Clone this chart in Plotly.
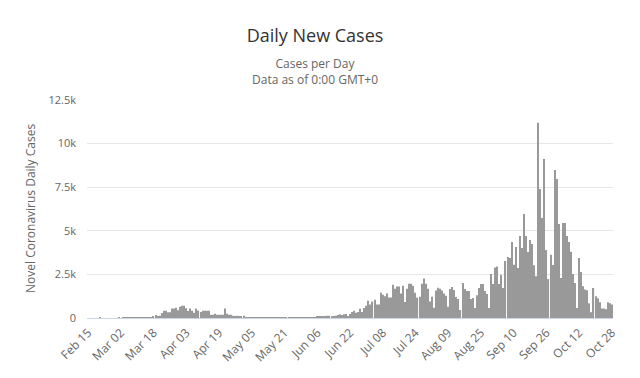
import plotly.graph_objects as go
import pandas as pd

# Categories: one per day, Feb 15 .. Oct 28 (2020)
dates = pd.date_range("2020-02-15", "2020-10-28").strftime("%b %d").tolist()

feb = [0, 0, 0, 0, 0, 0, 1, 0, 0, 0, 0, 0, 0, 0, 0]
mar_early = [2, 0, 3, 4, 2, 4, 4, 9, 14, 19, 17, 22, 12, 40, 32, 40, 38]
spring_wave = [60, 170, 120, 130, 290, 420, 420, 330, 330, 540, 540, 590, 440, 650, 700,
               700, 560, 400, 540, 420, 300, 540, 420, 350, 420, 420, 420, 420, 190, 190,
               250, 190, 190, 190, 190, 540, 250, 190, 190, 130, 75, 130, 75, 75, 130]
may_low = [15, 20, 10, 12, 8, 16, 15, 18, 10, 5, 12, 15, 9, 10, 13, 12, 8, 15, 10, 8,
           12, 10, 15, 20, 25, 30, 40]
june_rise = [57, 20, 25, 57, 57, 57, 57, 30, 100, 80, 100, 100, 100, 130, 130, 100, 60,
             130, 170, 210, 170, 210, 230, 120, 230, 350, 420, 300, 350, 530, 350, 580, 700]
summer = [990, 770, 940, 1050, 770, 770, 1450, 1340, 1240, 1400, 1170, 1170, 1910, 1680,
          1800, 1800, 1400, 1850, 920, 1680, 1970, 1970, 1850, 1450, 1170, 1220, 1970, 2260,
          1970, 1680, 940, 1220, 590, 1570, 1740, 1680, 1570, 1400, 1280, 650]
autumn = [1660, 1780, 1600, 1200, 1090, 460, 2000, 1660, 1550, 1550, 1090, 1150, 570, 1300,
          1720, 1950, 1950, 1550, 1380, 570, 2520, 1950, 2900, 2960, 1950, 2470, 1720, 3270,
          3500, 3440, 4360, 3060, 4070, 2870, 4700, 4010, 5970, 4700, 3780, 4470, 4240, 3020,
          2390, 11190, 7400, 5740, 9120, 3900, 2230, 3620, 3040, 8490, 7970, 5390, 2290, 5450,
          5450, 4700, 4360, 3800, 2520, 2000, 570, 3440, 2640, 1820, 1640, 1590, 840, 330,
          1720, 1240, 1130, 900, 550, 550, 500, 900, 840, 780]

cases = feb + mar_early + spring_wave + may_low + june_rise + summer + autumn

tick_dates = ["Feb 15", "Mar 02", "Mar 18", "Apr 03", "Apr 19", "May 05", "May 21", "Jun 06",
              "Jun 22", "Jul 08", "Jul 24", "Aug 09", "Aug 25", "Sep 10", "Sep 26", "Oct 12",
              "Oct 28"]
y_ticks = [0, 2500, 5000, 7500, 10000, 12500]
y_tick_labels = ["0", "2.5k", "5k", "7.5k", "10k", "12.5k"]

FONT = "Open Sans"
W, H = 632, 370  # page body adds an 8px margin

fig = go.Figure(go.Bar(x=dates, y=cases, marker=dict(color="#999999", line_width=0),
                       name="Daily Cases"))

fig.update_layout(
    width=W, height=H,
    margin=dict(l=79, r=27, t=92, b=60),
    plot_bgcolor="white", paper_bgcolor="white",
    bargap=0.45,
    showlegend=False,
    font=dict(family=FONT, color="#666666", size=11),
    title=dict(text="Daily New Cases", xref="container", x=307 / W, xanchor="center",
               yref="container", y=1 - 28 / H, yanchor="middle",
               font=dict(family=FONT, size=18, color="#333333")),
    xaxis=dict(type="category", tickmode="array", tickvals=tick_dates, ticktext=tick_dates,
               tickangle=-45, showgrid=False, showline=True, linecolor="#ccd6eb",
               linewidth=1, ticks="", automargin=False, ticklabelstandoff=2,
               tickfont=dict(size=12, color="#666666")),
    yaxis=dict(range=[0, 12500], tickvals=y_ticks, ticktext=y_tick_labels,
               showgrid=True, gridcolor="#e6e6e6", zeroline=False, showline=False,
               ticks="", automargin=False, ticklabelstandoff=10,
               tickfont=dict(size=11, color="#666666")),
    annotations=[
        dict(text="Cases per Day<br>Data as of 0:00 GMT+0", xref="paper", yref="paper",
             x=(315 - 87) / 526, y=1 + (100 - 72) / 218, showarrow=False,
             xanchor="center", yanchor="middle", font=dict(size=12, color="#666666")),
        dict(text="Novel Coronavirus Daily Cases", xref="paper", yref="paper",
             x=(30 - 87) / 526, y=0.5, textangle=-90, showarrow=False,
             xanchor="center", yanchor="middle", font=dict(size=12, color="#666666")),
    ],
)

fig.write_html("out.html")
